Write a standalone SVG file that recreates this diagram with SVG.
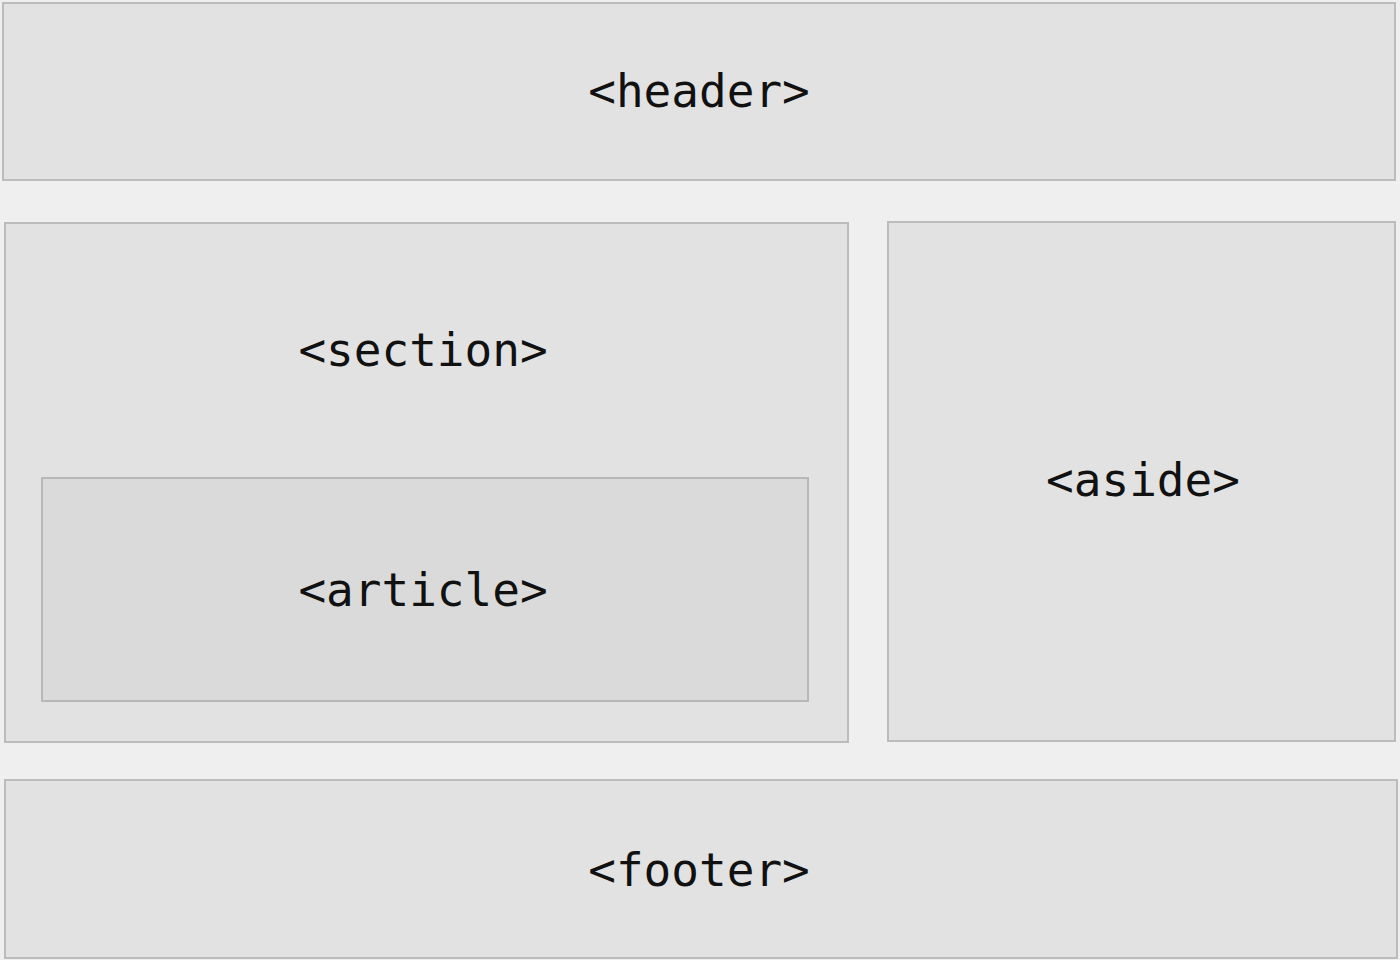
<svg xmlns="http://www.w3.org/2000/svg" width="1400" height="960" viewBox="0 0 1400 960">
  <style>
    .box { fill: #e2e2e2; stroke: #bcbcbc; stroke-width: 2; }
    .inner { fill: #dadada; stroke: #b8b8b8; stroke-width: 2; }
    .tag { font-family: "DejaVu Sans Mono", "Liberation Mono", monospace; font-size: 46px; fill: #111; text-anchor: middle; }
  </style>
  <rect width="1400" height="960" fill="#efefef"/>
  <g id="header">
    <rect class="box" x="3" y="3" width="1392" height="177"/>
    <text class="tag" x="699" y="107">&lt;header&gt;</text>
  </g>
  <g id="section">
    <rect class="box" x="5" y="223" width="843" height="519"/>
    <text class="tag" x="423" y="366">&lt;section&gt;</text>
  </g>
  <g id="article">
    <rect class="inner" x="42" y="478" width="766" height="223"/>
    <text class="tag" x="423" y="606">&lt;article&gt;</text>
  </g>
  <g id="aside">
    <rect class="box" x="888" y="222" width="507" height="519"/>
    <text class="tag" x="1143" y="496">&lt;aside&gt;</text>
  </g>
  <g id="footer">
    <rect class="box" x="5" y="780" width="1392" height="178"/>
    <text class="tag" x="699" y="886">&lt;footer&gt;</text>
  </g>
  <g id="connectors"/>
</svg>
